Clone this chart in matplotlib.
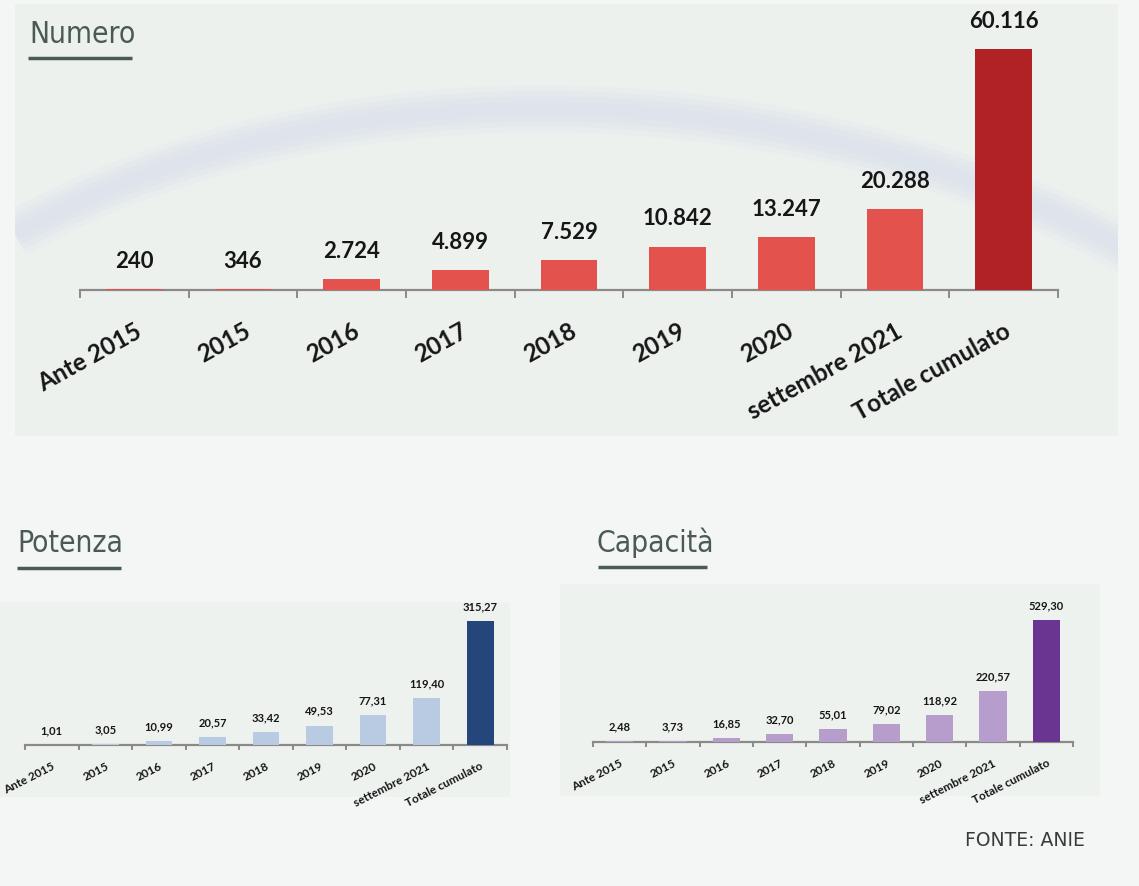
import matplotlib
matplotlib.use("Agg")
import matplotlib.pyplot as plt
from matplotlib.path import Path
from matplotlib.patches import PathPatch, Rectangle

# categorie comuni ai tre grafici
categorie = ["Ante 2015", "2015", "2016", "2017", "2018", "2019", "2020",
             "settembre 2021", "Totale cumulato"]

# numero di sistemi di accumulo installati
numero = [240, 346, 2724, 4899, 7529, 10842, 13247, 20288, 60116]
# potenza (MW)
potenza = [1.01, 3.05, 10.99, 20.57, 33.42, 49.53, 77.31, 119.40, 315.27]
# capacità (MWh)
capacita = [2.48, 3.73, 16.85, 32.70, 55.01, 79.02, 118.92, 220.57, 529.30]

W, H = 1139, 887
BG = "#f3f6f5"
PANEL = "#edf1ee"
TITLE_COL = "#4b5a53"
AXIS_COL = "#8c8a88"
LABEL_FONT = ["Lato", "DejaVu Sans"]

fig = plt.figure(figsize=(W / 100, H / 100), dpi=100, facecolor=BG)

# livello di sfondo in pixel
bg = fig.add_axes([0, 0, 1, 1], zorder=0)
bg.set_xlim(0, W)
bg.set_ylim(H, 0)
bg.axis("off")
pannello = Rectangle((15, 5), 1103, 432, color=PANEL, lw=0)
bg.add_patch(pannello)
bg.add_patch(Rectangle((0, 603), 510, 195, color="#eef2ef", lw=0))
bg.add_patch(Rectangle((560, 585), 540, 212, color="#eef2ef", lw=0))

# arco chiaro sullo sfondo del grafico principale, sfumato
arc = Path([(15, 235), (330, 60), (800, 70), (1135, 255)],
           [Path.MOVETO, Path.CURVE4, Path.CURVE4, Path.CURVE4])
for lw, a in [(34, 0.22), (26, 0.32), (18, 0.42), (10, 0.45)]:
    p = PathPatch(arc, fill=False, edgecolor="#dce3eb", lw=lw, alpha=a,
                  capstyle="butt")
    bg.add_patch(p)
    p.set_clip_path(pannello)


def titolo(testo, x, y, x0, x1, yline):
    bg.text(x, y, testo, fontsize=21.5, color=TITLE_COL, family="DejaVu Sans",
            stretch="condensed", ha="left", va="baseline")
    bg.plot([x0, x1], [yline, yline], color=TITLE_COL, lw=2.5,
            solid_capstyle="butt")


titolo("Numero", 29, 43, 28, 132, 59)
titolo("Potenza", 17, 552, 17, 121, 569)
titolo("Capacità", 597, 552, 598, 707, 568)
bg.text(1085, 841, "FONTE: ANIE", fontsize=13.5, color="#3a3a3a",
        family=["DejaVu Sans"], ha="right", va="center")


def grafico(valori, etichette, colori, left, right, top, base, ref_px,
            width, fs_val, fs_tick, val_pad, tick_len, tick_pad, rot):
    ax = fig.add_axes([left / W, 1 - base / H, (right - left) / W,
                       (base - top) / H], zorder=2)
    ax.patch.set_alpha(0)
    x = range(len(valori))
    ax.bar(x, valori, width=width, color=colori, zorder=3)
    ax.set_xlim(-0.5, len(valori) - 0.5)
    ax.set_ylim(0, max(valori) * (base - top) / ref_px)
    for i, (v, t) in enumerate(zip(valori, etichette)):
        ax.annotate(t, (i, v), xytext=(0, val_pad), textcoords="offset points",
                    ha="center", va="bottom", fontsize=fs_val,
                    fontweight="bold", family=LABEL_FONT, color="#161616")
    for s in ["top", "right", "left"]:
        ax.spines[s].set_visible(False)
    ax.spines["bottom"].set_color(AXIS_COL)
    ax.spines["bottom"].set_linewidth(1.6)
    ax.set_yticks([])
    ax.set_xticks(list(x))
    ax.set_xticks([i - 0.5 for i in range(len(valori) + 1)], minor=True)
    ax.tick_params(axis="x", which="major", length=0, pad=tick_len + tick_pad)
    ax.tick_params(axis="x", which="minor", length=tick_len, width=1.4,
                   color=AXIS_COL, direction="out")
    ax.set_xticklabels(categorie, rotation=rot, ha="right", va="top",
                       rotation_mode="anchor", fontsize=fs_tick,
                       fontweight="bold", family=LABEL_FONT, color="#161616")
    return ax


# Numero
col_num = ["#e4524e"] * 8 + ["#b02224"]
lab_num = [f"{v:,}".replace(",", ".") for v in numero]
grafico(numero, lab_num, col_num, 80, 1058, 20, 291, 241, 0.52,
        16, 17.5, 13, 5.5, 15, 29)

# Potenza
col_pot = ["#b9cae3"] * 8 + ["#25467b"]
lab_pot = [f"{v:.2f}".replace(".", ",") for v in potenza]
grafico(potenza, lab_pot, col_pot, 25, 507, 600, 746, 124, 0.5,
        8, 8.5, 7, 3.5, 7, 27)

# Capacità
col_cap = ["#b69dcc"] * 8 + ["#6a3591"]
lab_cap = [f"{v:.2f}".replace(".", ",") for v in capacita]
grafico(capacita, lab_cap, col_cap, 593, 1073, 600, 743, 122, 0.51,
        8, 8.5, 7, 3.5, 7, 27)

fig.savefig("out.png", dpi=100, facecolor=BG)
